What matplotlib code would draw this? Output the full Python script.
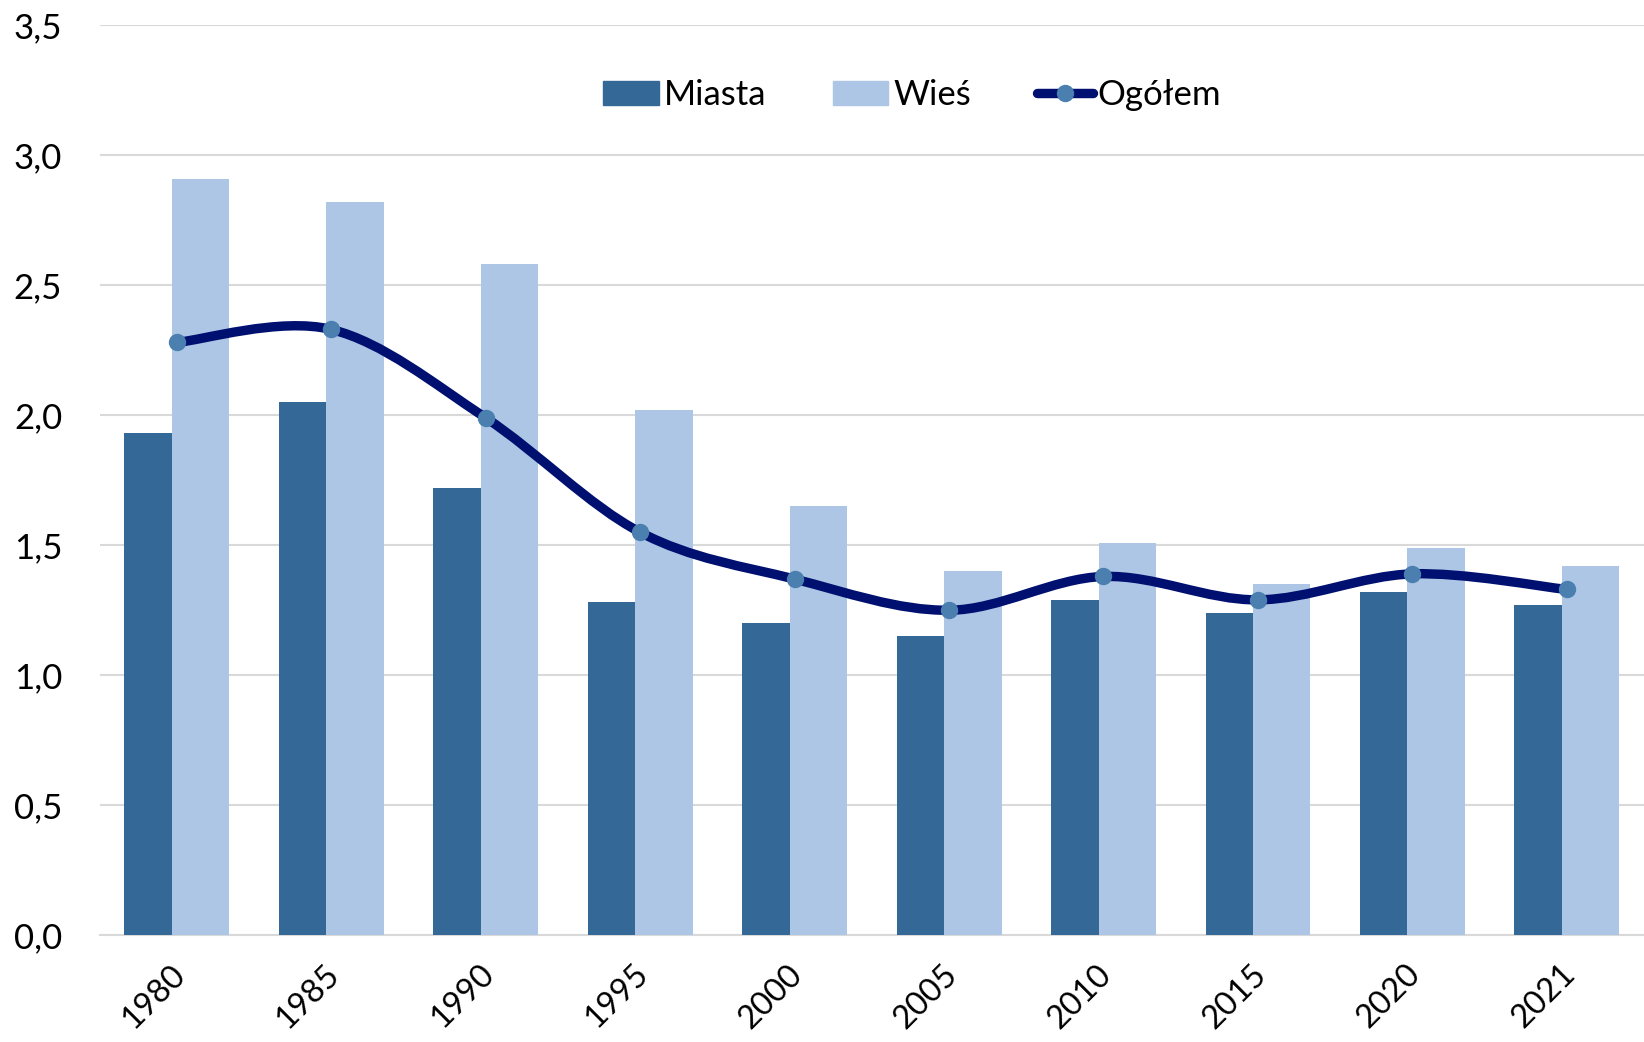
import matplotlib
matplotlib.use("Agg")
import matplotlib.pyplot as plt
import matplotlib.transforms as mtransforms
from matplotlib.path import Path
from matplotlib.patches import PathPatch
from matplotlib.lines import Line2D
import numpy as np

years = ["1980", "1985", "1990", "1995", "2000", "2005", "2010", "2015", "2020", "2021"]
miasta = [1.93, 2.05, 1.72, 1.28, 1.20, 1.15, 1.29, 1.24, 1.32, 1.27]
wies = [2.91, 2.82, 2.58, 2.02, 1.65, 1.40, 1.51, 1.35, 1.49, 1.42]
ogolem = [2.28, 2.33, 1.99, 1.55, 1.37, 1.25, 1.38, 1.29, 1.39, 1.33]
yticks = [0.0, 0.5, 1.0, 1.5, 2.0, 2.5, 3.0, 3.5]

plt.rcParams['font.family'] = ['Lato', 'DejaVu Sans']

c_miasta = "#346897"
c_wies = "#adc6e5"
c_line = "#001070"
c_marker = "#4a7fb0"
c_grid = "#d9d9d9"

fig = plt.figure(figsize=(16.44, 10.42), dpi=100)
ax = fig.add_axes([0.0606, 0.1024, 0.9394, 0.8734])

x = np.arange(len(years))
w = 0.372
ax.bar(x - 0.153, miasta, width=w, color=c_miasta, zorder=2)
ax.bar(x + 0.154, wies, width=w, color=c_wies, zorder=3)

# Excel-style smoothed line via cubic Bezier (Catmull-Rom control points)
pts = np.column_stack([x, ogolem]).astype(float)
verts = [tuple(pts[0])]
codes = [Path.MOVETO]
n = len(pts)
for i in range(n - 1):
    p0 = pts[i - 1] if i > 0 else pts[i]
    p1 = pts[i]
    p2 = pts[i + 1]
    p3 = pts[i + 2] if i + 2 < n else pts[i + 1]
    c1 = p1 + (p2 - p0) / 6.0
    c2 = p2 - (p3 - p1) / 6.0
    verts += [tuple(c1), tuple(c2), tuple(p2)]
    codes += [Path.CURVE4] * 3
path = Path(verts, codes)
ax.add_patch(PathPatch(path, facecolor='none', edgecolor=c_line, lw=6.8,
                       capstyle='round', joinstyle='round', zorder=4))
ax.plot(x, ogolem, linestyle='none', marker='o', markersize=11.5,
        color=c_marker, markeredgecolor=c_marker, zorder=5)

ax.set_xlim(-0.5, 9.5)
ax.set_ylim(0, 3.5)
ax.set_yticks(yticks)
ax.set_yticklabels([f"{v:.1f}".replace(".", ",") for v in yticks])
ax.set_xticks(x)
ax.set_xticklabels(years, rotation=45, ha='right', rotation_mode='anchor')
ax.tick_params(axis='y', length=0, labelsize=25, colors='black', pad=27)
ax.tick_params(axis='x', length=0, labelsize=23.5, colors='black', pad=17)
offset = mtransforms.ScaledTranslation(-0.07, 0, fig.dpi_scale_trans)
for lbl in ax.get_xticklabels():
    lbl.set_transform(lbl.get_transform() + offset)
ax.grid(axis='y', color=c_grid, lw=1.5, zorder=0)
ax.set_axisbelow(True)
for s in ['top', 'right', 'left']:
    ax.spines[s].set_visible(False)
ax.spines['bottom'].set_color(c_grid)
ax.spines['bottom'].set_linewidth(1.5)
ax.spines['bottom'].set_zorder(1)

handles = [
    plt.Rectangle((0, 0), 1, 1, color=c_miasta),
    plt.Rectangle((0, 0), 1, 1, color=c_wies),
    Line2D([0], [0], color=c_line, lw=6.8, marker='o', markersize=11.5,
           markerfacecolor=c_marker, markeredgecolor=c_marker, solid_capstyle='round'),
]
fig.legend(handles, ["Miasta", "Wieś", "Ogółem"], loc='center', bbox_to_anchor=(0.555, 0.909),
           ncol=3, frameon=False, fontsize=25, handlelength=1.6, handleheight=0.7,
           handletextpad=0.15, columnspacing=1.9)

fig.savefig("out.png", dpi=100, facecolor='white')
